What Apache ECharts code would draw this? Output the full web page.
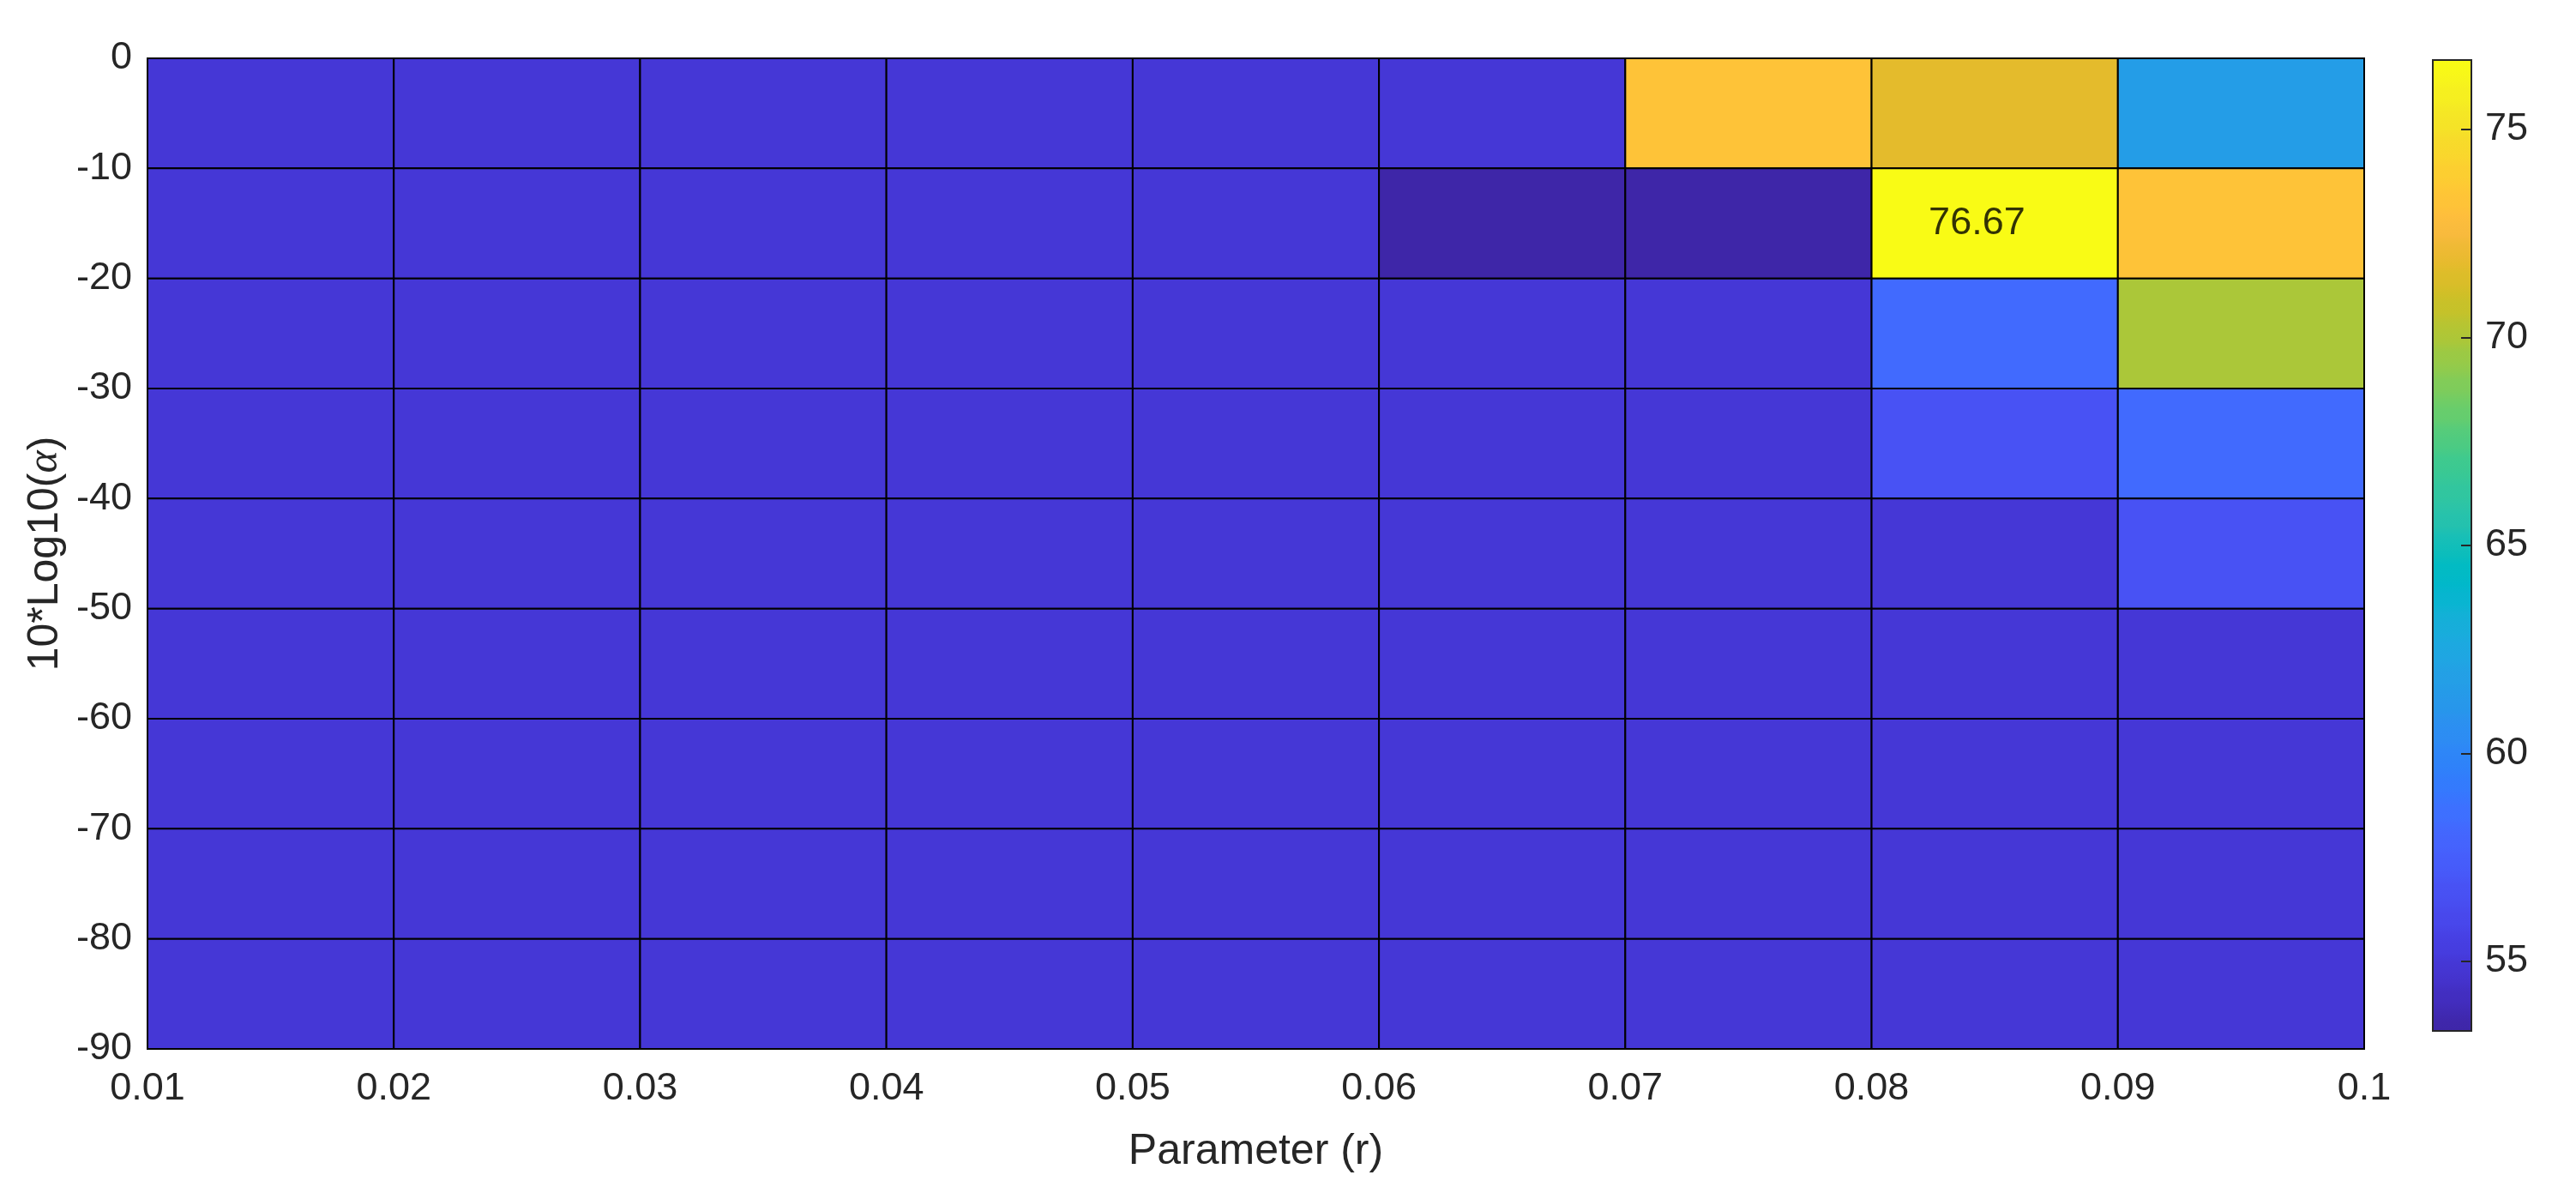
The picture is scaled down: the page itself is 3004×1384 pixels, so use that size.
<!DOCTYPE html>
<html>
<head>
<meta charset="utf-8">
<script src="https://cdn.jsdelivr.net/npm/echarts@6/dist/echarts.min.js"></script>
<style>
html,body{margin:0;padding:0;background:#ffffff;}
#chart{width:3004px;height:1384px;}
</style>
</head>
<body>
<div id="chart"></div>
<script>
// ---- data ----
const rEdges = [0.01, 0.02, 0.03, 0.04, 0.05, 0.06, 0.07, 0.08, 0.09, 0.1];
const alphaEdges = [0, -10, -20, -30, -40, -50, -60, -70, -80, -90];
// one row per 10*log10(alpha) band, top (0..-10) to bottom (-80..-90); one value per r cell
const row0 = [55.00, 55.00, 55.00, 55.00, 55.00, 55.00, 73.33, 71.67, 61.67];
const row1 = [55.00, 55.00, 55.00, 55.00, 55.00, 53.33, 53.33, 76.67, 73.33];
const row2 = [55.00, 55.00, 55.00, 55.00, 55.00, 55.00, 55.00, 58.33, 70.00];
const row3 = [55.00, 55.00, 55.00, 55.00, 55.00, 55.00, 55.00, 56.67, 58.33];
const row4 = [55.00, 55.00, 55.00, 55.00, 55.00, 55.00, 55.00, 55.00, 56.67];
const row5 = [55.00, 55.00, 55.00, 55.00, 55.00, 55.00, 55.00, 55.00, 55.00];
const row6 = [55.00, 55.00, 55.00, 55.00, 55.00, 55.00, 55.00, 55.00, 55.00];
const row7 = [55.00, 55.00, 55.00, 55.00, 55.00, 55.00, 55.00, 55.00, 55.00];
const row8 = [55.00, 55.00, 55.00, 55.00, 55.00, 55.00, 55.00, 55.00, 55.00];
const valueRows = [row0, row1, row2, row3, row4, row5, row6, row7, row8];
const colorbarTicks = [55, 60, 65, 70, 75];
const peakLabelAt = [0.0823, -15];
const peakLabelText = '76.67';

// MATLAB parula(64)
const parula64 = ['#3e26a8','#402ab4','#422ec0','#4432cb','#4537d5','#463cde','#4741e5','#4847eb',
'#484df0','#4852f4','#4758f8','#465efb','#4563fd','#4269fe','#3e6fff','#3875fe',
'#327cfc','#2f81fa','#2e87f7','#2d8cf3','#2b91ef','#2797eb','#259be8','#23a0e5',
'#20a5e3','#1ca9e0','#18addb','#12b1d6','#08b5d0','#01b8ca','#02bbc3','#0bbdbc',
'#19bfb6','#24c1ae','#2cc4a7','#31c69f','#37c897','#3fca8e','#4acb84','#57cc7a',
'#64cd6f','#72cd64','#81cc59','#8fcb4e','#9dc943','#abc739','#b9c431','#c5c22a',
'#d1bf27','#dcbd29','#e6bb2d','#f0ba36','#f8ba3d','#febe3c','#fec338','#fec934',
'#fccf30','#fad62d','#f7dc2a','#f5e327','#f5e924','#f6ef20','#f7f51b','#f9fb15'];
// doubled stops -> banded gradient like MATLAB's discrete colormap
const bandedColors = [];
parula64.forEach(c => { bandedColors.push(c, c); });

// ---- build cells ----
const cells = [];
valueRows.forEach((row, j) => {
  row.forEach((v, i) => {
    cells.push([rEdges[i], rEdges[i + 1], alphaEdges[j], alphaEdges[j + 1], v]);
  });
});
const allVals = valueRows.flat();
const colorMin = Math.min(...allVals);
const colorMax = Math.max(...allVals);

const FONT = 'Liberation Sans, Arial, Helvetica, sans-serif';
const TXT = '#262626';

const chart = echarts.init(document.getElementById('chart'), null, {renderer: 'canvas'});
chart.setOption({
  backgroundColor: '#ffffff',
  animation: false,
  grid: [
    {left: 172, top: 68, width: 2585, height: 1155, containLabel: false},
    {left: 2837, top: 70, width: 45, height: 1132, show: true, borderColor: TXT, borderWidth: 2,
     backgroundColor: 'rgba(0,0,0,0)', z: 10}
  ],
  xAxis: [
    {type: 'value', gridIndex: 0, min: rEdges[0], max: rEdges[rEdges.length - 1], interval: 0.01,
     name: 'Parameter (r)', nameLocation: 'middle', nameGap: 95,
     nameTextStyle: {fontSize: 50, color: TXT, fontFamily: FONT},
     axisLine: {show: true, onZero: false, lineStyle: {color: TXT, width: 2}},
     axisTick: {show: false}, splitLine: {show: false},
     axisLabel: {fontSize: 45, color: TXT, fontFamily: FONT, margin: 24}},
    {type: 'value', gridIndex: 1, min: 0, max: 1, show: false, axisLine: {onZero: false}}
  ],
  yAxis: [
    {type: 'value', gridIndex: 0, min: alphaEdges[alphaEdges.length - 1], max: alphaEdges[0], interval: 10,
     name: '10*Log10({a|α})', nameLocation: 'middle', nameGap: 90,
     nameTextStyle: {fontSize: 50, color: TXT, fontFamily: FONT,
       rich: {a: {fontSize: 50, color: TXT, fontStyle: 'italic', fontFamily: 'Liberation Serif, DejaVu Serif, serif'}}},
     axisLine: {show: true, onZero: false, lineStyle: {color: TXT, width: 2}},
     axisTick: {show: false}, splitLine: {show: false},
     axisLabel: {fontSize: 45, color: TXT, fontFamily: FONT, margin: 18}},
    {type: 'value', gridIndex: 1, position: 'right', min: colorMin, max: colorMax, z: 12,
     axisLine: {show: false, onZero: false}, splitLine: {show: false},
     axisTick: {show: true, inside: true, length: 12, customValues: colorbarTicks, lineStyle: {color: TXT, width: 2}},
     axisLabel: {show: true, customValues: colorbarTicks, fontSize: 45, color: TXT, fontFamily: FONT, margin: 16}}
  ],
  visualMap: {
    type: 'continuous', seriesIndex: 0, dimension: 4, min: colorMin, max: colorMax,
    calculable: false, hoverLink: false, orient: 'vertical',
    left: 2837, top: 70, itemWidth: 45, itemHeight: 1132, padding: 0,
    inRange: {color: bandedColors}
  },
  series: [
    {
      type: 'custom', xAxisIndex: 0, yAxisIndex: 0,
      dimensions: ['r0', 'r1', 'a0', 'a1', 'v'],
      encode: {x: [0, 1], y: [2, 3]},
      data: cells,
      renderItem: function (params, api) {
        const p0 = api.coord([api.value(0), api.value(2)]);
        const p1 = api.coord([api.value(1), api.value(3)]);
        return {
          type: 'rect',
          shape: {x: Math.min(p0[0], p1[0]), y: Math.min(p0[1], p1[1]),
                  width: Math.abs(p1[0] - p0[0]), height: Math.abs(p1[1] - p0[1])},
          style: {fill: api.visual('color'), stroke: '#000000', lineWidth: 2}
        };
      }
    },
    {
      type: 'scatter', xAxisIndex: 0, yAxisIndex: 0, symbol: 'circle', symbolSize: 1, z: 5,
      itemStyle: {color: 'rgba(0,0,0,0)'},
      data: [peakLabelAt],
      label: {show: true, position: 'right', distance: 0, formatter: peakLabelText,
              fontSize: 45, color: '#000000', fontFamily: FONT}
    }
  ]
});
</script>
</body>
</html>
